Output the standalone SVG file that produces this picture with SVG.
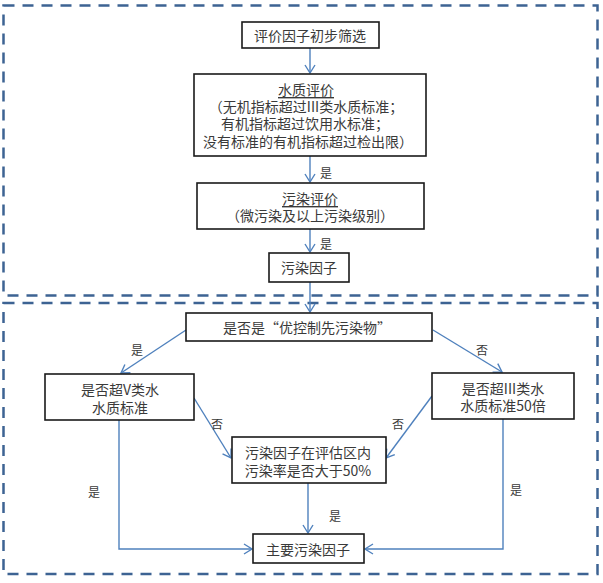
<svg xmlns="http://www.w3.org/2000/svg" width="603" height="583" viewBox="0 0 603 583">
<style>
.frame{fill:none;stroke:#3d6393;stroke-width:2.5;stroke-dasharray:11 8}
.box{fill:#fff;stroke:#1a1a1a;stroke-width:1.6}
.t{font-family:"Noto Sans CJK SC","Liberation Sans",sans-serif;font-size:14px;fill:#3a3a3a;text-anchor:middle;dominant-baseline:central}
.lb{font-family:"Noto Sans CJK SC","Liberation Sans",sans-serif;font-size:12px;fill:#3a3a3a;text-anchor:middle;dominant-baseline:central}
.c{fill:none;stroke:#4f81bd;stroke-width:1.4;marker-end:url(#ah)}
.u{text-decoration:underline}
</style>
<defs>
<marker id="ah" markerUnits="userSpaceOnUse" markerWidth="20" markerHeight="20" viewBox="-10 -10 20 20" refX="0" refY="0" orient="auto">
<path d="M-8,-5 L0,0 L-8,5" fill="none" stroke="#4f81bd" stroke-width="1.4"/>
</marker>
</defs>
<rect class="frame" x="3.5" y="5.5" width="594" height="290"/>
<rect class="frame" x="3.5" y="303" width="594" height="271"/>
<g id="connectors">
<path class="c" d="M310,48 L310,73"/>
<path class="c" d="M310,156 L310,182"/>
<path class="c" d="M310,229 L310,252"/>
<path class="c" d="M310,282 L310,312"/>
<path class="c" d="M186,330 L121,373"/>
<path class="c" d="M433,330 L502,372"/>
<path class="c" d="M194,398 L231,458"/>
<path class="c" d="M432,396 L386,458"/>
<path class="c" d="M119,420 L119,549 L252,549"/>
<path class="c" d="M503,419 L503,549 L365,549"/>
<path class="c" d="M308,483 L308,533"/>
<text class="lb" x="326" y="172">是</text>
<text class="lb" x="326" y="243">是</text>
<text class="lb" x="137" y="349">是</text>
<text class="lb" x="482" y="349">否</text>
<text class="lb" x="217" y="423">否</text>
<text class="lb" x="398" y="423">否</text>
<text class="lb" x="94" y="491">是</text>
<text class="lb" x="516" y="489">是</text>
<text class="lb" x="335" y="515">是</text>
</g>
<g id="n1">
<rect class="box" x="242" y="22" width="137" height="26"/>
<text class="t" x="310" y="35">评价因子初步筛选</text>
</g>
<g id="n2">
<rect class="box" x="194" y="74" width="232" height="82"/>
<text class="t u" x="306" y="89">水质评价</text>
<text class="t" x="306" y="106">（无机指标超过III类水质标准；</text>
<text class="t" x="305" y="123">有机指标超过饮用水标准；</text>
<text class="t" x="308" y="141">没有标准的有机指标超过检出限）</text>
</g>
<g id="n3">
<rect class="box" x="197" y="183" width="227" height="46"/>
<text class="t u" x="310" y="198">污染评价</text>
<text class="t" x="310" y="215">（微污染及以上污染级别）</text>
</g>
<g id="n4">
<rect class="box" x="269" y="253" width="80" height="29"/>
<text class="t" x="309" y="267">污染因子</text>
</g>
<g id="n5">
<rect class="box" x="186" y="313" width="246" height="28"/>
<text class="t" x="307" y="327">是否是“优控制先污染物”</text>
</g>
<g id="n6">
<rect class="box" x="45" y="374" width="149" height="46"/>
<text class="t" x="120" y="389">是否超V类水</text>
<text class="t" x="120" y="407">水质标准</text>
</g>
<g id="n7">
<rect class="box" x="432" y="373" width="142" height="46"/>
<text class="t" x="503" y="388">是否超III类水</text>
<text class="t" x="503" y="405">水质标准50倍</text>
</g>
<g id="n8">
<rect class="box" x="232" y="437" width="154" height="46"/>
<text class="t" x="308" y="452">污染因子在评估区内</text>
<text class="t" x="308" y="470">污染率是否大于50%</text>
</g>
<g id="n9">
<rect class="box" x="253" y="534" width="111" height="29"/>
<text class="t" x="308" y="549">主要污染因子</text>
</g>
</svg>
